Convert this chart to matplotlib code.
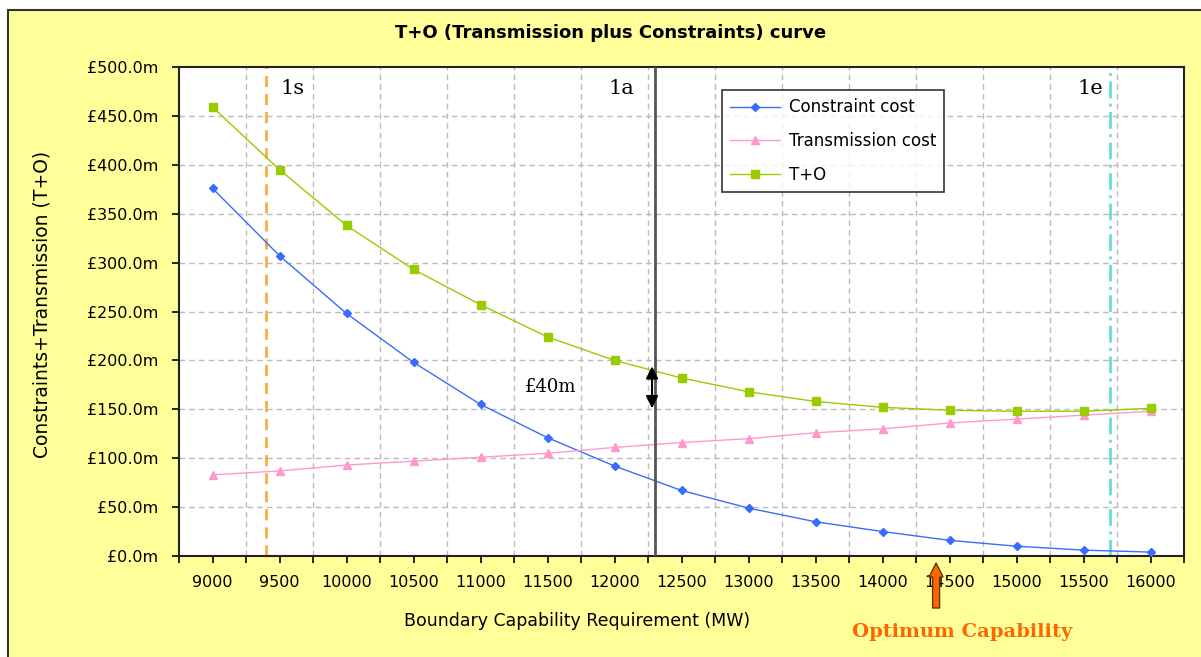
import numpy as np
import matplotlib.pyplot as plt
from matplotlib.patches import Rectangle, FancyArrow

# boundary capability requirement (MW)
capability = [9000, 9500, 10000, 10500, 11000, 11500, 12000, 12500,
              13000, 13500, 14000, 14500, 15000, 15500, 16000]
# costs in £m
constraint_cost = [376, 307, 248, 198, 155, 121, 92, 67, 49, 35, 25, 16, 10, 6, 4]
transmission_cost = [83, 87, 93, 97, 101, 105, 111, 116, 120, 126, 130, 136, 140, 144, 148]
t_plus_o = [459, 395, 338, 293, 257, 224, 200, 182, 168, 158, 152, 149, 148, 148, 151]

# scenario markers
scen_labels = ["1s", "1a", "1e"]
scen_x = [9400, 12300, 15700]
optimum_x = 14400

W, H = 1201, 657
fig = plt.figure(figsize=(W / 100, H / 100), dpi=100)
fig.patch.set_facecolor("white")

# yellow chart area with a border (runs off the right/bottom edges)
fig.patches.append(Rectangle((8 / W, 0 - 20 / H), 1.05, 1 - 10 / H + 20 / H,
                             transform=fig.transFigure, facecolor="#FFFF99",
                             edgecolor="#333333", linewidth=1.5, zorder=-5))

ax = fig.add_axes([179 / W, 1 - 556 / H, (1184 - 179) / W, (556 - 67) / H])
ax.set_zorder(2)
ax.set_facecolor("white")
ax.set_xlim(8750, 16250)
ax.set_ylim(0, 500)

ax.plot(capability, constraint_cost, color="#3A6BFF", lw=1, marker="D", ms=4,
        label="Constraint cost", zorder=4)
ax.plot(capability, transmission_cost, color="#FF99CC", lw=1, marker="^", ms=6,
        label="Transmission cost", zorder=4)
ax.plot(capability, t_plus_o, color="#99CC00", lw=1, marker="s", ms=6,
        label="T+O", zorder=4)

# grid
for y in np.arange(50, 500, 50):
    ax.axhline(y, color="#BBBBBB", lw=1, ls=(0, (4, 3)), zorder=1)
for x in np.arange(9250, 16250, 500):
    ax.axvline(x, color="#BBBBBB", lw=1, ls=(0, (4, 3)), zorder=1)

# scenario lines
ax.axvline(scen_x[0], color="#FFAA44", lw=2, ls=(0, (4, 2.5)), zorder=2)
ax.axvline(scen_x[1], color="#555555", lw=2, zorder=5)
ax.axvline(scen_x[2], color="#66DDDD", lw=2, ls=(0, (6, 2, 1, 2)), zorder=2)
for lab, x in zip(scen_labels, [9600, 12050, 15550]):
    ax.text(x, 478, lab, family="DejaVu Serif", fontsize=15, ha="center",
            va="center", zorder=6)

# £40m gap arrow
ax.annotate("", xy=(12280, 194), xytext=(12280, 151),
            arrowprops=dict(arrowstyle="<|-|>", color="black", lw=1.5,
                            mutation_scale=18, shrinkA=0, shrinkB=0), zorder=6)
ax.text(11520, 173, "£40m", family="DejaVu Serif", fontsize=13,
        ha="center", va="center")

ax.set_xticks(np.arange(8750, 16251, 250))
ax.set_xticklabels([str(int(v)) if v % 500 == 0 else "" for v in np.arange(8750, 16251, 250)])
ax.set_yticks(np.arange(0, 501, 50))
ax.set_yticklabels([f"£{v:.1f}m" for v in np.arange(0, 501, 50)])
ax.tick_params(axis="both", direction="out", length=5, width=1.2, labelsize=11.5,
               color="black")
ax.tick_params(axis="x", pad=9)
ax.tick_params(axis="y", pad=10)
for s in ax.spines.values():
    s.set_linewidth(1.5)
    s.set_color("#222222")

leg = ax.legend(loc="upper left", bbox_to_anchor=((722 - 179) / (1184 - 179), 1 - (90 - 67) / (556 - 67)),
                borderaxespad=0, frameon=True, fancybox=False, edgecolor="black",
                fontsize=12, handlelength=3, borderpad=0.5, labelspacing=0.95,
                handletextpad=0.5)
leg.get_frame().set_linewidth(1.2)
leg.set_zorder(7)

fig.text(611 / W, 1 - 33 / H, "T+O (Transmission plus Constraints) curve",
         ha="center", va="center", fontsize=13, fontweight="bold")
fig.text(42 / W, 1 - 304 / H, "Constraints+Transmission (T+O)", rotation=90,
         ha="center", va="center", fontsize=13.5)
fig.text(577 / W, 1 - 621 / H, "Boundary Capability Requirement (MW)",
         ha="center", va="center", fontsize=12.5)

# optimum capability arrow below the axis
x_pix = ax.transData.transform((optimum_x, 0))[0]
fig.patches.append(FancyArrow(x_pix / W, 1 - 608 / H, 0, (608 - 563) / H,
                              width=7 / W, head_width=14 / W, head_length=14 / H,
                              length_includes_head=True, transform=fig.transFigure,
                              facecolor="#FF6600", edgecolor="#663300", lw=1,
                              zorder=5))
fig.text(962 / W, 1 - 632 / H, "Optimum Capability", ha="center", va="center",
         family="DejaVu Serif", fontsize=14, fontweight="bold", color="#FF6600")

fig.savefig("out.png", dpi=100)
